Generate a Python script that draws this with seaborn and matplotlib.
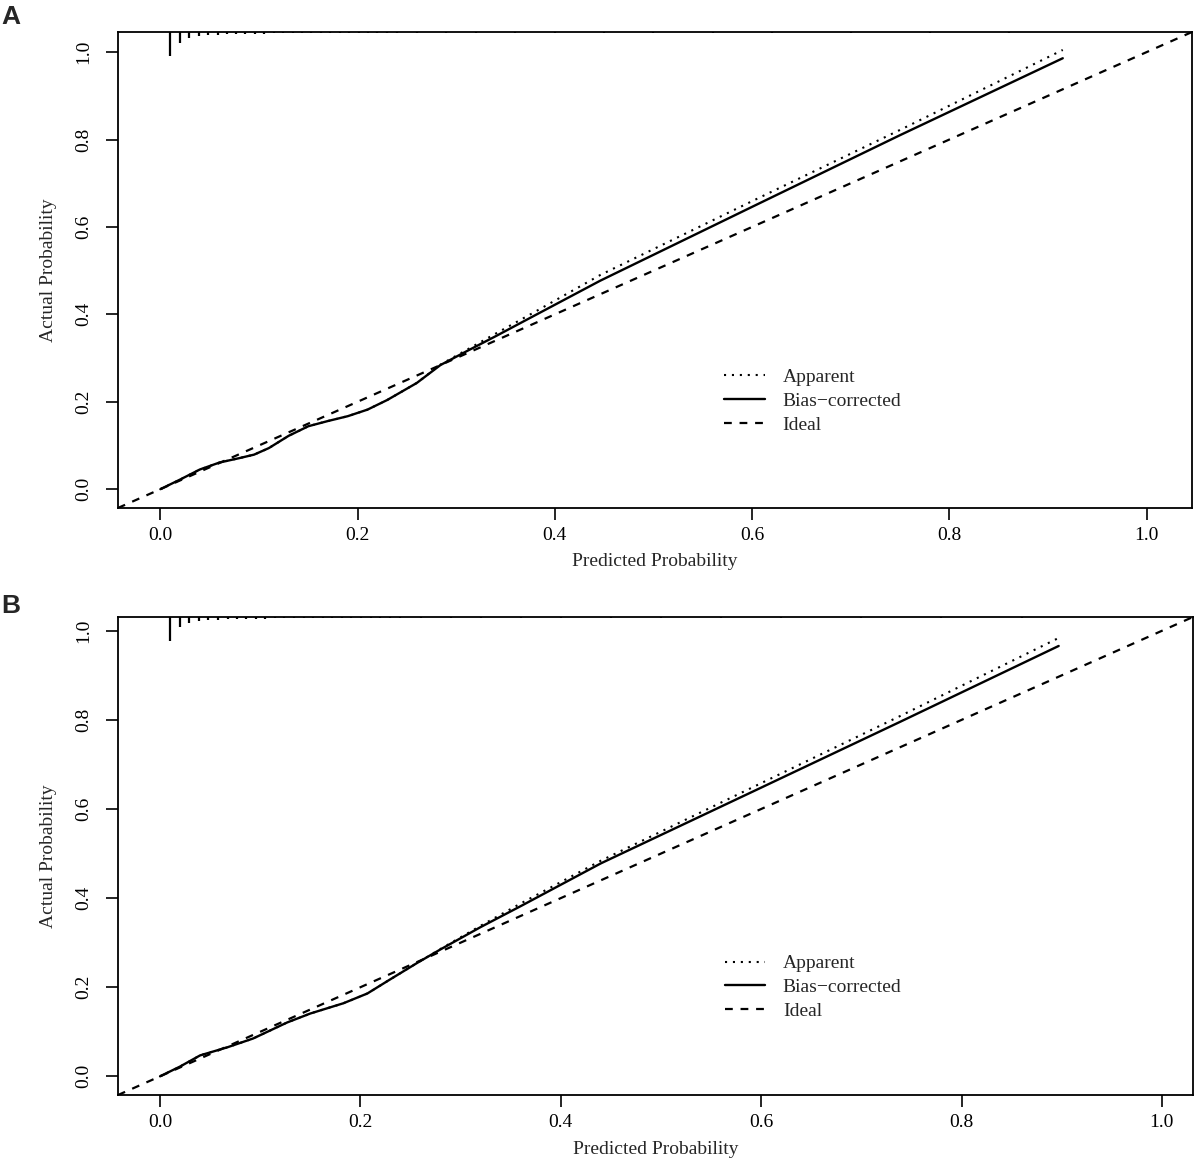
import numpy as np
import pandas as pd
import matplotlib
matplotlib.use("Agg")
import matplotlib.pyplot as plt
import seaborn as sns

# calibration curves
a_bias_x = [0.0, 0.02, 0.04, 0.06, 0.08, 0.095, 0.11, 0.13, 0.15, 0.17, 0.19, 0.21,
            0.23, 0.26, 0.284, 0.31, 0.34, 0.38, 0.446, 0.60, 0.75, 0.915]
a_bias_y = [0.0, 0.022, 0.045, 0.061, 0.071, 0.079, 0.094, 0.122, 0.144, 0.156, 0.167, 0.182,
            0.204, 0.243, 0.284, 0.315, 0.350, 0.398, 0.477, 0.646, 0.810, 0.986]
a_app_x = [0.0, 0.02, 0.04, 0.06, 0.08, 0.095, 0.11, 0.13, 0.15, 0.17, 0.19, 0.21,
           0.23, 0.26, 0.284, 0.31, 0.34, 0.38, 0.446, 0.60, 0.75, 0.915]
a_app_y = [0.0, 0.022, 0.045, 0.061, 0.071, 0.079, 0.094, 0.122, 0.144, 0.156, 0.167, 0.182,
           0.204, 0.243, 0.285, 0.318, 0.356, 0.406, 0.490, 0.659, 0.822, 1.005]

b_bias_x = [0.0, 0.02, 0.04, 0.067, 0.093, 0.11, 0.127, 0.15, 0.183, 0.207, 0.23, 0.257,
            0.28, 0.32, 0.36, 0.44, 0.60, 0.739, 0.897]
b_bias_y = [0.0, 0.022, 0.047, 0.065, 0.085, 0.103, 0.121, 0.141, 0.164, 0.186, 0.218, 0.255,
            0.285, 0.335, 0.382, 0.478, 0.648, 0.796, 0.966]
b_app_x = [0.0, 0.02, 0.04, 0.067, 0.093, 0.11, 0.127, 0.15, 0.183, 0.207, 0.23, 0.257,
           0.28, 0.32, 0.36, 0.44, 0.60, 0.739, 0.897]
b_app_y = [0.0, 0.022, 0.047, 0.065, 0.085, 0.103, 0.121, 0.141, 0.164, 0.186, 0.218, 0.255,
           0.286, 0.338, 0.388, 0.484, 0.658, 0.809, 0.984]

# histogram of predicted probabilities shown as spikes at the top
rug_x = [0.010, 0.020, 0.029, 0.039, 0.048, 0.058, 0.068, 0.077, 0.086, 0.096, 0.105, 0.115,
         0.124, 0.134, 0.144, 0.153, 0.163, 0.172, 0.182, 0.191, 0.201, 0.211, 0.220, 0.230,
         0.240, 0.26, 0.29, 0.32, 0.36, 0.40, 0.45, 0.50, 0.56, 0.62, 0.70, 0.78, 0.86]
a_rug_h = [0.055, 0.026, 0.014, 0.009, 0.007, 0.006, 0.005, 0.005, 0.004, 0.004, 0.0035, 0.003,
           0.003, 0.0025, 0.0025, 0.002, 0.002, 0.002, 0.002, 0.002, 0.002, 0.002, 0.002, 0.002,
           0.002, 0.002, 0.002, 0.002, 0.002, 0.002, 0.002, 0.002, 0.002, 0.002, 0.002, 0.002, 0.002]
b_rug_h = [0.054, 0.023, 0.014, 0.010, 0.007, 0.006, 0.005, 0.005, 0.004, 0.004, 0.0035, 0.003,
           0.003, 0.0025, 0.0025, 0.002, 0.002, 0.002, 0.002, 0.002, 0.002, 0.002, 0.002, 0.002,
           0.002, 0.002, 0.002, 0.002, 0.002, 0.002, 0.002, 0.002, 0.002, 0.002, 0.002, 0.002, 0.002]

a_lim = (-0.043, 1.046)
b_lim = (-0.042, 1.031)
ticks = [0.0, 0.2, 0.4, 0.6, 0.8, 1.0]
tick_labels = ["0.0", "0.2", "0.4", "0.6", "0.8", "1.0"]

sns.set_style("ticks")
plt.rcParams["font.family"] = ["Liberation Serif", "DejaVu Serif"]
plt.rcParams["axes.linewidth"] = 1.3

fig = plt.figure(figsize=(11.94, 11.60), dpi=100)
ax_a = fig.add_axes([0.0988, 0.5621, 0.8995, 0.4103])
ax_b = fig.add_axes([0.0988, 0.0560, 0.9003, 0.4121])

panels = [
    (ax_a, a_app_x, a_app_y, a_bias_x, a_bias_y, a_rug_h, a_lim, "A", 1 - 5 / 1160),
    (ax_b, b_app_x, b_app_y, b_bias_x, b_bias_y, b_rug_h, b_lim, "B", 1 - 594 / 1160),
]

for ax, ax_x, ax_y, bx, by, rug_h, lim, letter, ly in panels:
    app = pd.DataFrame({"pred": ax_x, "actual": ax_y})
    bias = pd.DataFrame({"pred": bx, "actual": by})
    sns.lineplot(data=app, x="pred", y="actual", ax=ax, color="black", lw=1.5,
                 linestyle=(0, (1, 2.8)), sort=False, estimator=None, label="Apparent")
    sns.lineplot(data=bias, x="pred", y="actual", ax=ax, color="black", lw=1.7,
                 sort=False, estimator=None, label="Bias\u2212corrected")
    ax.axline((0, 0), slope=1, color="black", lw=1.6, linestyle=(0, (3.5, 3.5)), label="Ideal")

    top = np.full(len(rug_x), lim[1])
    ax.vlines(rug_x, top - np.array(rug_h), top, color="black", lw=1.6)

    ax.set_xlim(lim)
    ax.set_ylim(lim)
    ax.set_xticks(ticks)
    ax.set_xticklabels(tick_labels)
    ax.set_yticks(ticks)
    ax.set_yticklabels(tick_labels, rotation=90, va="center")
    ax.tick_params(axis="both", length=8.5, width=1.2, labelsize=14, colors="black")
    ax.tick_params(axis="x", pad=5)
    ax.tick_params(axis="y", pad=10)
    ax.set_xlabel("Predicted Probability", fontsize=14, labelpad=7)
    ax.set_ylabel("Actual Probability", fontsize=14, labelpad=13)
    for s in ax.spines.values():
        s.set_visible(True)
        s.set_color("black")

    handles, labels = ax.get_legend_handles_labels()
    ax.legend(handles=handles, labels=labels, loc="upper left", bbox_to_anchor=(0.548, 0.33),
              frameon=False, fontsize=14, handlelength=2.1, handletextpad=0.9,
              labelspacing=0.32)

    fig.text(0.001, ly, letter, fontsize=19, fontweight="bold",
             family="Liberation Sans", ha="left", va="top")

fig.savefig("out.png", dpi=100)
